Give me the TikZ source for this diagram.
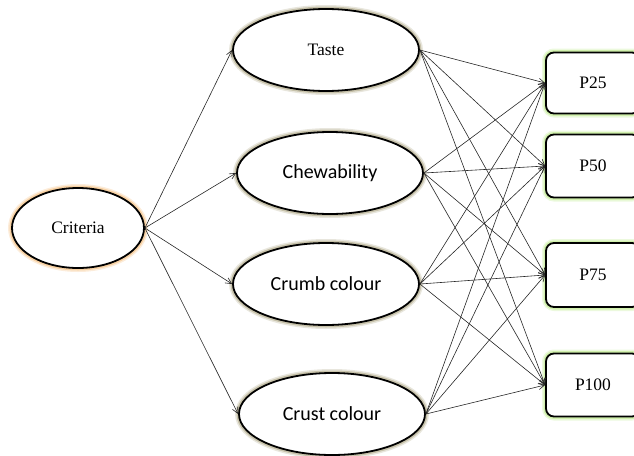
\documentclass[tikz,border=0pt]{standalone}
\usepackage{fontspec}
\setmainfont{Liberation Serif}
\newfontfamily\calibri{Carlito}
\usetikzlibrary{shapes.geometric,arrows.meta}

\definecolor{glowcrit}{HTML}{F2B56C}
\definecolor{glowmid}{HTML}{A59D78}
\definecolor{glowbox}{HTML}{BFEA8E}

\begin{document}
\begin{tikzpicture}[x=1pt,y=-1pt,
  oval/.style={ellipse,draw,line width=1.8pt,fill=white,inner sep=0pt,
    minimum width=186pt,minimum height=82pt,font=\fontsize{17.5}{20}\selectfont,
    preaction={draw=#1,line width=8pt,opacity=0.25},
    preaction={draw=#1,line width=5pt,opacity=0.5}},
  sans/.style={font=\calibri\fontsize{20}{24}\selectfont},
  pbox/.style={draw,rounded corners=8pt,line width=1.8pt,fill=white,inner sep=0pt,
    minimum width=94pt,minimum height=62pt,font=\fontsize{17.5}{20}\selectfont,
    preaction={draw=glowbox,line width=8pt,opacity=0.3},
    preaction={draw=glowbox,line width=5pt,opacity=0.6}},
  link/.style={-{Straight Barb[length=6pt,width=6pt]},line width=0.6pt,black!85}]
\useasboundingbox (0,0) rectangle (634,455);
\clip (0,0) rectangle (634,455);

\node[oval=glowcrit,minimum width=132pt,minimum height=80pt] (crit) at (78,228) {Criteria};

\node[oval=glowmid] (taste) at (326,50) {Taste};
\node[oval=glowmid,sans] (chew) at (330,173) {Chewability};
\node[oval=glowmid,sans] (crumb) at (326,284) {Crumb colour};
\node[oval=glowmid,sans] (crust) at (332,414) {Crust colour};

\node[pbox,minimum height=61pt] (p25) at (593,83) {P25};
\node[pbox,minimum height=63pt] (p50) at (593,166) {P50};
\node[pbox,minimum height=64pt] (p75) at (593,275) {P75};
\node[pbox,minimum height=63pt] (p100) at (593,385) {P100};

\foreach \s in {taste,chew,crumb,crust}
  \draw[link] (crit.east) -- (\s.west);

\foreach \s in {taste,chew,crumb,crust}
  \foreach \t in {p25,p50,p75,p100}
    \draw[link] (\s.east) -- (\t.west);
\end{tikzpicture}
\end{document}
